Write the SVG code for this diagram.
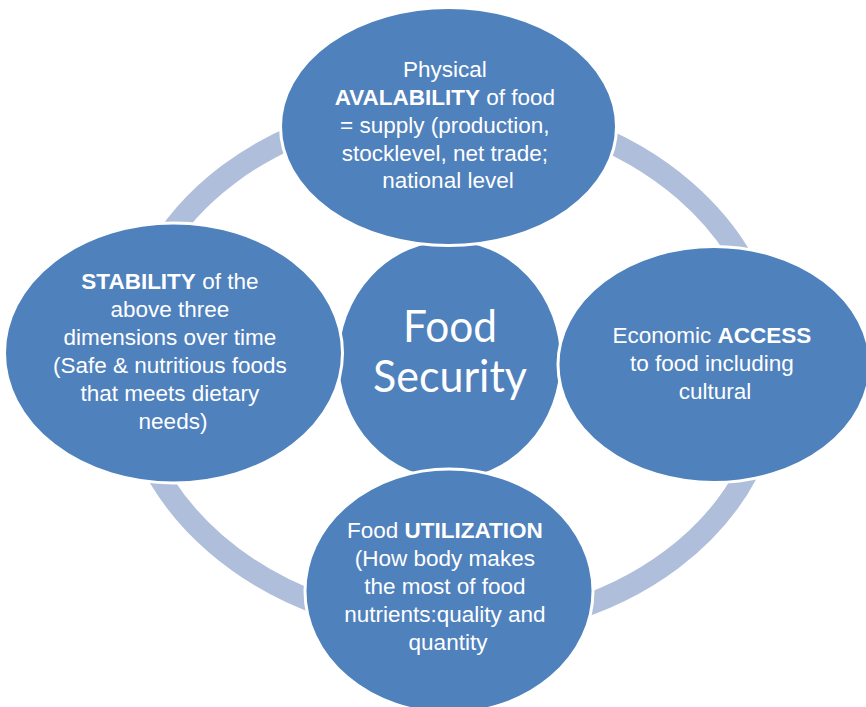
<svg xmlns="http://www.w3.org/2000/svg" width="866" height="707" viewBox="0 0 866 707">
  <style>
    .bubble { fill: #4f81bd; stroke: #ffffff; stroke-width: 3; }
    .ring { fill: none; stroke: #afbfdb; stroke-width: 22; }
    .lbl { font-family: "Liberation Sans", Arial, sans-serif; font-size: 22.5px; fill: #ffffff; text-anchor: middle; }
    .lbl .b { font-weight: bold; }
    .title { font-family: Lato, "Liberation Sans", sans-serif; font-size: 44px; fill: #ffffff; text-anchor: middle; }
  </style>

  <!-- cycle ring linking the four dimensions -->
  <g id="connectors">
    <ellipse class="ring" cx="450" cy="367" rx="323" ry="261" transform="rotate(2 450 367)"/>
  </g>

  <!-- hub -->
  <g id="food-security">
    <ellipse class="bubble" cx="449.5" cy="360" rx="112" ry="120"/>
    <text class="title" x="450" y="342" textLength="94" lengthAdjust="spacingAndGlyphs">Food</text>
    <text class="title" x="450" y="392" textLength="154" lengthAdjust="spacingAndGlyphs">Security</text>
  </g>

  <!-- availability -->
  <g id="availability">
    <ellipse class="bubble" cx="448.5" cy="126.5" rx="168" ry="119"/>
    <text class="lbl">
      <tspan x="448" y="77">Physical</tspan>
      <tspan x="448" y="105"><tspan class="b">AVALABILITY</tspan> of food</tspan>
      <tspan x="448" y="133">= supply (production,</tspan>
      <tspan x="448" y="161">stocklevel, net trade;</tspan>
      <tspan x="448" y="188">national level</tspan>
    </text>
  </g>

  <!-- stability -->
  <g id="stability">
    <ellipse class="bubble" cx="173.5" cy="353" rx="169" ry="130"/>
    <text class="lbl">
      <tspan x="173" y="289"><tspan class="b">STABILITY</tspan> of the</tspan>
      <tspan x="173" y="317">above three</tspan>
      <tspan x="173" y="345">dimensions over time</tspan>
      <tspan x="173" y="373">(Safe &amp; nutritious foods</tspan>
      <tspan x="173" y="401">that meets dietary</tspan>
      <tspan x="173" y="429">needs)</tspan>
    </text>
  </g>

  <!-- access -->
  <g id="access">
    <ellipse class="bubble" cx="714" cy="364.5" rx="156" ry="118"/>
    <text class="lbl">
      <tspan x="715" y="343">Economic <tspan class="b">ACCESS</tspan></tspan>
      <tspan x="715" y="371">to food including</tspan>
      <tspan x="715" y="399">cultural</tspan>
    </text>
  </g>

  <!-- utilization -->
  <g id="utilization">
    <ellipse class="bubble" cx="449" cy="591" rx="144" ry="122"/>
    <text class="lbl">
      <tspan x="448" y="538">Food <tspan class="b">UTILIZATION</tspan></tspan>
      <tspan x="448" y="566">(How body makes</tspan>
      <tspan x="448" y="594">the most of food</tspan>
      <tspan x="448" y="622">nutrients:quality and</tspan>
      <tspan x="448" y="650">quantity</tspan>
    </text>
  </g>
</svg>
